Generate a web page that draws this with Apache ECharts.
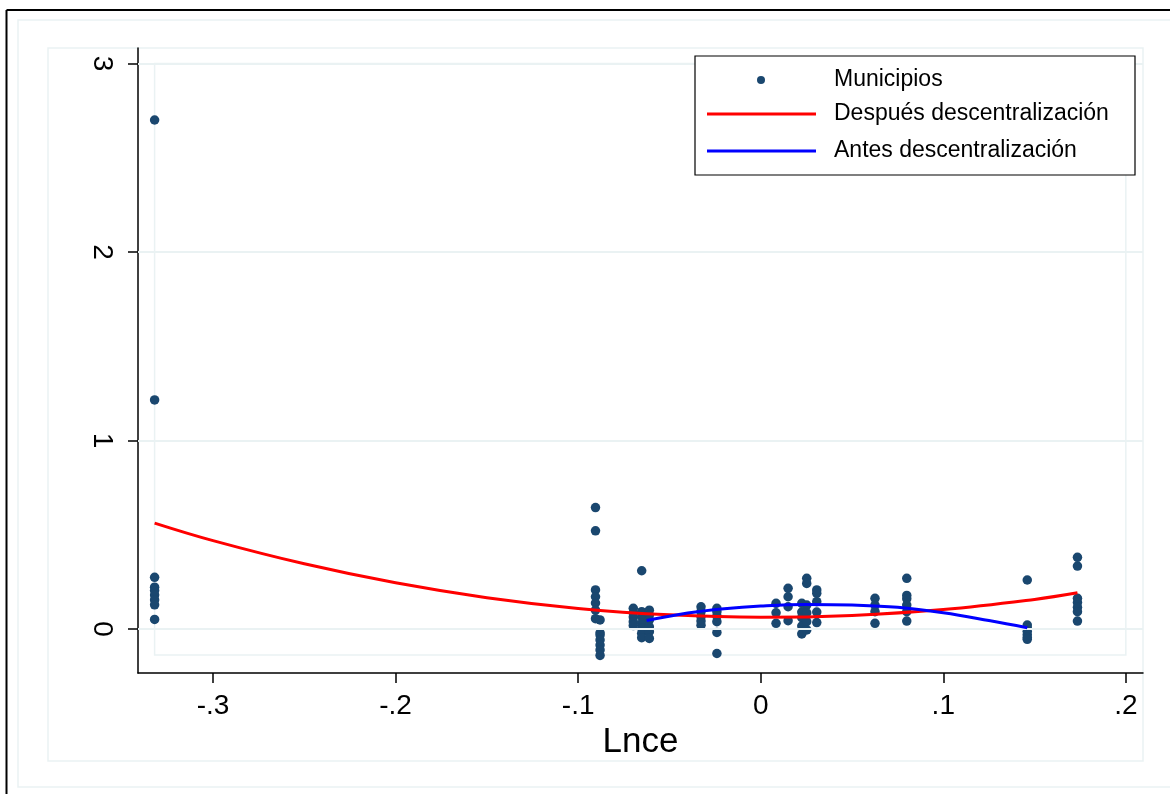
<!DOCTYPE html>
<html>
<head>
<meta charset="utf-8">
<title>Lnce</title>
<script src="https://cdn.jsdelivr.net/npm/echarts@6/dist/echarts.min.js"></script>
<style>
  html, body { margin: 0; padding: 0; background: #ffffff; }
  #chart { width: 1170px; height: 794px; }
</style>
</head>
<body>
<div id="chart"></div>
<script>
// Axis ticks and labels
const xTicks = [-0.3, -0.2, -0.1, 0, 0.1, 0.2];
const xTickLabels = ['-.3', '-.2', '-.1', '0', '.1', '.2'];
const yTicks = [0, 1, 2, 3];
const yTickLabels = ['0', '1', '2', '3'];

// Municipios: Lnce value of each column and the observations stacked on it
const muniLnce = [-0.332, -0.0905, -0.088, -0.0698, -0.0652, -0.061, -0.0327, -0.024,
                  0.0084, 0.015, 0.0225, 0.0252, 0.0307, 0.0626, 0.08, 0.146, 0.1735];
const muniValues = [
  [2.70, 1.215, 0.274, 0.222, 0.204, 0.180, 0.154, 0.128, 0.051],
  [0.644, 0.521, 0.207, 0.171, 0.138, 0.100, 0.055],
  [0.048, -0.020, -0.032, -0.058, -0.085, -0.111, -0.140],
  [0.110, 0.085, 0.063, 0.039, 0.018],
  [0.309, 0.092, 0.065, 0.030, 0.004, -0.023, -0.046],
  [0.100, 0.074, 0.048, 0.012, -0.014, -0.050],
  [0.118, 0.092, 0.065, 0.042, 0.020],
  [0.110, 0.092, 0.069, 0.039, -0.018, -0.130],
  [0.136, 0.086, 0.030],
  [0.216, 0.171, 0.118, 0.044],
  [0.136, 0.090, 0.060, 0.016, -0.026],
  [0.269, 0.242, 0.127, 0.085, 0.039, -0.005],
  [0.207, 0.189, 0.145, 0.090, 0.034],
  [0.163, 0.127, 0.092, 0.030],
  [0.269, 0.178, 0.160, 0.127, 0.092, 0.042],
  [0.260, 0.021, 0.005, -0.012, -0.030, -0.045, -0.055],
  [0.380, 0.334, 0.163, 0.140, 0.115, 0.092, 0.042]
];

// Fitted curve after decentralisation
const despuesX = [-0.332, -0.30, -0.25, -0.20, -0.15, -0.10, -0.05, 0, 0.05, 0.10, 0.15, 0.1735];
const despuesY = [0.562, 0.469, 0.346, 0.245, 0.166, 0.109, 0.075, 0.062, 0.072, 0.103, 0.157, 0.192];

// Fitted curve before decentralisation
const antesX = [-0.0625, -0.04, -0.02, 0, 0.025, 0.05, 0.075, 0.10, 0.125, 0.146];
const antesY = [0.045, 0.085, 0.108, 0.122, 0.130, 0.127, 0.115, 0.086, 0.045, 0.007];

// Extent of the plot region outline (data x range, y from lowest value to top tick)
const regionX = [-0.332, 0.2];
const regionY = [-0.138, 3];

const seriesNames = ['Municipios', 'Después descentralización', 'Antes descentralización'];

const FONT = 'Liberation Sans, Arial, Helvetica, sans-serif';
const LIGHT = '#eaf2f3';
const NAVY = '#1a476f';

const muniData = [];
muniLnce.forEach(function (x, i) {
  muniValues[i].forEach(function (y) { muniData.push([x, y]); });
});
const despuesData = despuesX.map(function (x, i) { return [x, despuesY[i]]; });
const antesData = antesX.map(function (x, i) { return [x, antesY[i]]; });

// One legend block per entry so each row sits at its own height
function legendAt(name, icon, left, top, w, h, gap) {
  return {
    data: [{ name: name, icon: icon }],
    left: left,
    top: top,
    padding: 0,
    itemWidth: w,
    itemHeight: h,
    selectedMode: false,
    z: 20,
    textStyle: {
      fontFamily: FONT,
      fontSize: 23,
      lineHeight: 24,
      color: '#000000',
      padding: [0, 0, 0, gap]
    }
  };
}

const chart = echarts.init(document.getElementById('chart'), null, { renderer: 'canvas' });

chart.setOption({
  animation: false,
  backgroundColor: '#ffffff',
  grid: { left: 138, right: 27, top: 48, bottom: 121, containLabel: false },
  xAxis: {
    type: 'value',
    min: -0.3411,
    max: 0.2094,
    name: 'Lnce',
    nameLocation: 'middle',
    nameGap: 50,
    nameTextStyle: { fontFamily: FONT, fontSize: 35, color: '#000000' },
    axisLine: { onZero: false, lineStyle: { color: '#000000', width: 1.5 } },
    axisTick: { show: true, length: 10, customValues: xTicks, lineStyle: { color: '#000000', width: 1.5 } },
    axisLabel: {
      customValues: xTicks,
      margin: 19,
      fontFamily: FONT,
      fontSize: 28,
      color: '#000000',
      formatter: function (v) {
        const i = xTicks.findIndex(function (t) { return Math.abs(t - v) < 1e-9; });
        return i >= 0 ? xTickLabels[i] : '';
      }
    },
    splitLine: { show: false }
  },
  yAxis: {
    type: 'value',
    min: -0.2334,
    max: 3.082,
    axisLine: { onZero: false, lineStyle: { color: '#000000', width: 1.5 } },
    axisTick: { show: true, length: 10, customValues: yTicks, lineStyle: { color: '#000000', width: 1.5 } },
    axisLabel: {
      customValues: yTicks,
      rotate: -90,
      margin: 22,
      fontFamily: FONT,
      fontSize: 28,
      color: '#000000',
      formatter: function (v) {
        const i = yTicks.findIndex(function (t) { return Math.abs(t - v) < 1e-9; });
        return i >= 0 ? yTickLabels[i] : '';
      }
    },
    splitLine: { show: false }
  },
  legend: [
    legendAt(seriesNames[0], 'circle', 757, 68, 8, 8, 64),
    legendAt(seriesNames[1], 'rect', 707, 102, 109, 3, 13),
    legendAt(seriesNames[2], 'rect', 707, 139, 109, 3, 13)
  ],
  graphic: [
    // outer border
    { type: 'line', z: 0, shape: { x1: 6.5, y1: 10, x2: 6.5, y2: 794 }, style: { stroke: '#000000', lineWidth: 2 } },
    { type: 'line', z: 0, shape: { x1: 6.5, y1: 10, x2: 1170, y2: 10 }, style: { stroke: '#000000', lineWidth: 2 } },
    // inner light frame
    { type: 'polyline', z: 0, shape: { points: [[1172, 20], [18, 20], [18, 787], [1172, 787]] }, style: { stroke: LIGHT, lineWidth: 1.5, fill: null } },
    // graph region frame
    { type: 'rect', z: 0, shape: { x: 48, y: 48, width: 1095, height: 713 }, style: { stroke: LIGHT, lineWidth: 1.5, fill: null } },
    // legend box
    { type: 'rect', z: 10, shape: { x: 695, y: 56, width: 440, height: 119 }, style: { stroke: '#000000', lineWidth: 1.2, fill: '#ffffff' } }
  ],
  series: [
    {
      // gridlines and plot region outline drawn under the data
      type: 'scatter',
      name: '__grid',
      data: [],
      z: 1,
      silent: true,
      markLine: {
        silent: true,
        symbol: ['none', 'none'],
        label: { show: false },
        lineStyle: { color: LIGHT, width: 1.8, type: 'solid' },
        data: yTicks.map(function (t) { return { yAxis: t }; })
      },
      markArea: {
        silent: true,
        itemStyle: { color: 'rgba(0,0,0,0)', borderColor: LIGHT, borderWidth: 1.5 },
        data: [[{ coord: [regionX[0], regionY[1]] }, { coord: [regionX[1], regionY[0]] }]]
      }
    },
    {
      type: 'scatter',
      name: seriesNames[0],
      data: muniData,
      symbol: 'circle',
      symbolSize: 9.5,
      itemStyle: { color: NAVY, opacity: 1 },
      z: 3
    },
    {
      type: 'line',
      name: seriesNames[1],
      data: despuesData,
      smooth: 0.4,
      symbol: 'none',
      lineStyle: { color: '#ff0000', width: 3 },
      itemStyle: { color: '#ff0000' },
      z: 4
    },
    {
      type: 'line',
      name: seriesNames[2],
      data: antesData,
      smooth: 0.4,
      symbol: 'none',
      lineStyle: { color: '#0000ff', width: 3 },
      itemStyle: { color: '#0000ff' },
      z: 5
    }
  ]
});
</script>
</body>
</html>
